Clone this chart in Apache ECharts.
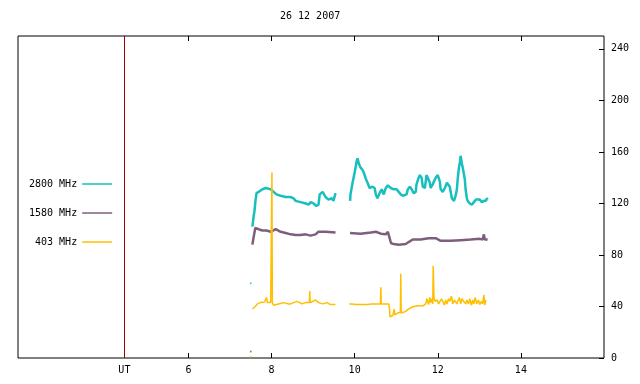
<!DOCTYPE html>
<html>
<head>
<meta charset="utf-8">
<script src="https://cdn.jsdelivr.net/npm/echarts@6/dist/echarts.min.js"></script>
<style>
  html, body { margin: 0; padding: 0; background: #fff; }
  #chart { width: 640px; height: 384px; }
</style>
</head>
<body>
<div id="chart"></div>
<script>
// hours UT / flux values, null = data gap
const t2800 = [7.54, 7.57, 7.59, 7.61, 7.64, 7.69, 7.78, 7.86, 7.98, 8.05, 8.12, 8.22, 8.34, 8.46, 8.53, 8.58, 8.70, 8.82, 8.89, 8.94, 9.01, 9.08, 9.13, 9.16, 9.23, 9.30, 9.37, 9.45, 9.49, 9.54,
  9.70,
  9.89, 9.90, 9.95, 10.00, 10.05, 10.07, 10.10, 10.14, 10.19, 10.22, 10.27, 10.31, 10.36, 10.39, 10.43, 10.48, 10.51, 10.55, 10.60, 10.65, 10.70, 10.75, 10.80, 10.87, 10.94, 11.01, 11.06, 11.11, 11.16, 11.20, 11.25, 11.28, 11.33, 11.37, 11.42, 11.47, 11.49, 11.54, 11.57, 11.61, 11.64, 11.69, 11.71, 11.73, 11.76, 11.81, 11.83, 11.88, 11.90, 11.95, 12.00, 12.05, 12.07, 12.12, 12.17, 12.22, 12.24, 12.29, 12.31, 12.34, 12.39, 12.43, 12.46, 12.48, 12.51, 12.53, 12.55, 12.58, 12.60, 12.65, 12.67, 12.70, 12.72, 12.77, 12.82, 12.87, 12.92, 12.96, 13.01, 13.06, 13.11, 13.16, 13.18, 13.20];
const v2800 = [102, 110, 114, 121, 128, 129, 131, 132, 131, 129, 127, 126, 125, 125, 124, 122, 121, 120, 119, 121, 120, 118, 119, 127, 129, 125, 123, 124, 122, 128,
  null,
  122, 127, 136, 144, 153, 155, 151, 148, 146, 144, 139, 136, 132, 131, 133, 132, 127, 124, 128, 131, 127, 132, 134, 132, 131, 131, 129, 127, 126, 125, 127, 131, 133, 131, 128, 129, 135, 140, 142, 140, 133, 132, 137, 142, 141, 136, 132, 135, 136, 140, 142, 137, 131, 129, 132, 136, 137, 133, 129, 124, 122, 126, 131, 139, 148, 151, 157, 151, 148, 139, 131, 124, 122, 120, 119, 121, 123, 124, 123, 121, 122, 122, 124, 123];

const t1580 = [7.54, 7.57, 7.61, 7.69, 7.78, 7.88, 7.98, 8.10, 8.22, 8.34, 8.46, 8.58, 8.70, 8.82, 8.94, 9.06, 9.13, 9.30, 9.54,
  9.70,
  9.89, 10.14, 10.39, 10.51, 10.63, 10.75, 10.80, 10.84, 10.86, 10.88, 10.94, 11.06, 11.23, 11.30, 11.40, 11.59, 11.78, 11.95, 12.07, 12.31, 12.55, 12.79, 13.01, 13.08, 13.11, 13.13, 13.20];
const v1580 = [88, 94, 101, 100, 99, 99, 98, 100, 98, 97, 96, 95.5, 95.5, 96, 95, 96, 98, 98, 97.5,
  null,
  97, 96.5, 97.5, 98, 96.5, 96, 98, 97.5, 91, 89, 88.5, 88, 88.5, 90, 92, 92, 93, 93, 91, 91, 91.5, 92, 92.5, 92, 96, 92, 92];

const t403 = [7.54, 7.57, 7.61, 7.66, 7.73, 7.83, 7.88, 7.90, 7.98, 8.00, 8.01, 8.02, 8.05, 8.17, 8.29, 8.41, 8.46, 8.53, 8.61, 8.68, 8.73, 8.82, 8.91, 8.92, 8.93, 9.06, 9.13, 9.23, 9.33, 9.42, 9.54,
  9.70,
  9.87, 9.89, 9.92, 10.05, 10.29, 10.41, 10.53, 10.62, 10.63, 10.64, 10.75, 10.82, 10.84, 10.85, 10.92, 10.95, 10.97, 11.04, 11.10, 11.11, 11.12, 11.22, 11.27, 11.35, 11.42, 11.54, 11.64, 11.71, 11.74, 11.78, 11.81, 11.83, 11.86, 11.88, 11.89, 11.91, 11.93, 11.95, 11.99, 12.02, 12.05, 12.09, 12.12, 12.16, 12.19, 12.22, 12.24, 12.26, 12.29, 12.33, 12.36, 12.40, 12.43, 12.46, 12.48, 12.52, 12.55, 12.58, 12.62, 12.67, 12.70, 12.74, 12.77, 12.81, 12.84, 12.87, 12.90, 12.94, 12.98, 13.01, 13.05, 13.08, 13.11, 13.13, 13.16, 13.18, 13.20];
const v403 = [38, 39, 40, 42, 43, 43.5, 47, 43, 43, 43, 144, 43, 41, 42, 43, 42, 42, 43, 44, 43, 42, 43, 43, 52, 43, 45, 43, 42, 43, 41.5, 41.5,
  null,
  42, 43, 42, 41.5, 41.5, 42, 42, 42, 55, 42, 42, 42, 38, 32, 33, 38, 33.5, 35, 35.5, 65.5, 35, 36, 37.5, 39, 40, 40.5, 40.5, 42, 46, 41.5, 47, 43, 46, 42, 71.7, 47, 44, 42.7, 45, 42, 42, 46, 44, 41, 45, 42, 42, 46, 44, 48, 42, 45, 46, 42, 44, 47, 42, 46, 44, 42, 45, 42, 46, 41, 45, 42, 47, 42, 45, 41.5, 44, 42, 49, 41, 45];

// stray single samples near 07:30
const dotT = [7.50, 7.50, 7.50];
const dotV = [58, 5, 1];

const names = ['2800 MHz', '1580 MHz', '403 MHz'];
const colors = ['#17bfbf', '#7d5f7d', '#ffbf00'];
const xTicks = [6, 8, 10, 12, 14];
const yTicks = [0, 40, 80, 120, 160, 200, 240];
const utHour = 4.46;

const font = 'DejaVu Sans Mono';
const pairs = (ts, vs) => ts.map((t, i) => [t, vs[i] == null ? '-' : vs[i]]);

const chart = echarts.init(document.getElementById('chart'));

const lineSeries = (name, ts, vs, color, width) => ({
    name: name,
    type: 'line',
    data: pairs(ts, vs),
    showSymbol: false,
    connectNulls: false,
    animation: false,
    lineStyle: { color: color, width: width },
    itemStyle: { color: color }
});

const s2800 = lineSeries(names[0], t2800, v2800, colors[0], 2.5);
s2800.markLine = {
    silent: true,
    symbol: 'none',
    animation: false,
    label: { show: false },
    lineStyle: { color: '#a00000', width: 1, type: 'solid' },
    data: [{ xAxis: utHour }]
};

const option = {
    animation: false,
    title: {
        text: '26 12 2007',
        left: 280,
        top: 11,
        padding: 0,
        textStyle: { fontFamily: font, fontSize: 10, fontWeight: 'normal', color: '#000' }
    },
    legend: {
        orient: 'vertical',
        left: 29,
        top: 179,
        padding: 0,
        align: 'right',
        icon: 'rect',
        itemWidth: 30,
        itemHeight: 1.5,
        itemGap: 19,
        textStyle: { fontFamily: font, fontSize: 10, color: '#000' },
        data: names
    },
    grid: {
        left: 18, right: 36, top: 36, bottom: 26,
        show: true, borderColor: '#000', borderWidth: 1
    },
    xAxis: [{
        type: 'value',
        position: 'bottom',
        min: 1.9,
        max: 16,
        axisLine: { show: false },
        splitLine: { show: false },
        axisTick: { inside: true, length: 5, customValues: xTicks, lineStyle: { color: '#000' } },
        axisLabel: {
            customValues: [utHour].concat(xTicks),
            formatter: v => Math.abs(v - utHour) < 0.01 ? 'UT' : String(v),
            color: '#000', fontFamily: font, fontSize: 10, margin: 7
        }
    }, {
        type: 'value',
        position: 'top',
        min: 1.9,
        max: 16,
        axisLine: { show: false },
        splitLine: { show: false },
        axisTick: { inside: true, length: 5, customValues: xTicks, lineStyle: { color: '#000' } },
        axisLabel: { show: false }
    }],
    yAxis: {
        type: 'value',
        position: 'right',
        min: 0,
        max: 250,
        axisLine: { show: false },
        splitLine: { show: false },
        axisTick: { inside: true, length: 5, customValues: yTicks, lineStyle: { color: '#000' } },
        axisLabel: { customValues: yTicks, color: '#000', fontFamily: font, fontSize: 10, margin: 7 }
    },
    series: [
        s2800,
        lineSeries(names[1], t1580, v1580, colors[1], 2.5),
        lineSeries(names[2], t403, v403, colors[2], 1.5),
        {
            name: 'dots',
            type: 'scatter',
            symbolSize: 2,
            animation: false,
            data: dotT.map((t, i) => ({ value: [t, dotV[i]], itemStyle: { color: colors[i] } }))
        }
    ]
};

chart.setOption(option);
</script>
</body>
</html>
